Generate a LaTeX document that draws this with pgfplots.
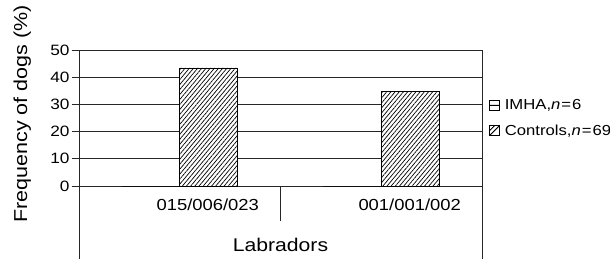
\documentclass[border=0pt]{standalone}
\usepackage{fontspec}
\setmainfont{Liberation Sans}[FakeStretch=1.15]
\usepackage{pgfplots}
\pgfplotsset{compat=1.18}
\usetikzlibrary{patterns.meta}
\begin{document}
\begin{tikzpicture}[x=1pt,y=1pt]
\useasboundingbox (0,0) rectangle (610,259);
\begin{axis}[
  at={(79pt,0pt)}, anchor=south west,
  scale only axis, width=403pt, height=209pt,
  xmin=-0.5, xmax=1.5, ymin=-26.84, ymax=50,
  clip=false,
  axis line style={draw=none},
  ytick={0,10,20,30,40,50},
  ymajorgrids,
  grid style={black!85, line width=0.8pt},
  major tick length=7pt,
  ytick pos=left, ytick align=outside,
  ytick style={black!85, line width=0.8pt},
  xtick={0.139,1.141},
  xticklabels={015/006/023,001/001/002},
  xtick style={draw=none},
  xticklabel style={anchor=base, yshift=55pt, font=\fontsize{16}{19}\selectfont},
  yticklabel style={xshift=1pt},
  /pgf/number format/assume math mode=true,
  font=\fontsize{15}{18}\selectfont,
  ylabel={Frequency of dogs (\%)},
  ylabel style={at={(-0.141,0.694)}, anchor=center, font=\fontsize{18.7}{22}\selectfont},
  xlabel={Labradors},
  xlabel style={at={(0.5,0.067)}, anchor=center, font=\fontsize{18.4}{22}\selectfont},
  ybar, bar width=58pt,
  legend style={at={(1.017,0.675)}, anchor=west, draw=none, fill=none,
    inner sep=0pt, row sep=12pt, font=\fontsize{14.5}{17}\selectfont,
    nodes={inner sep=1pt}},
  legend cell align=left,
]
\addplot[draw=black, fill=white, line width=0.8pt, bar shift=-29pt,
  legend image code/.code={
    \node[inner sep=0pt, minimum size=0pt, draw=none] at (14pt,0pt) {};
    \draw[black, line width=0.8pt, fill=white] (0pt,-5pt) rectangle (10pt,5pt);
    \draw[black, line width=0.8pt] (0pt,0pt) -- (10pt,0pt);}]
  coordinates {(0,0) (1,0)};
\addlegendentry{IMHA,\textit{n}\kern1pt=\kern1pt6}
\addplot[draw=black, fill=white, line width=0.8pt, bar shift=29pt,
  postaction={pattern={Lines[angle=50,distance=3.2pt,line width=0.7pt]}},
  legend image code/.code={
    \node[inner sep=0pt, minimum size=0pt, draw=none] at (14pt,0pt) {};
    \draw[black, line width=0.8pt, fill=white, postaction={}] (0pt,-5pt) rectangle (10pt,5pt);
    \draw[black, line width=0.7pt] (0pt,-5pt) -- (10pt,5pt);
    \draw[black, line width=0.6pt] (0pt,0pt) -- (5pt,5pt);}]
  coordinates {(0,43.4) (1,34.9)};
\addlegendentry{Controls,\textit{n}\kern1pt=\kern1pt69}
\draw[black!85, line width=0.9pt] (axis cs:-0.5,-26.84) -- (axis cs:-0.5,50);
\draw[black!85, line width=0.9pt] (axis cs:1.5,-26.84) -- (axis cs:1.5,50);
\draw[black!85, line width=0.9pt] (axis cs:0.5,0) -- (axis cs:0.5,-12.9);
\end{axis}
\end{tikzpicture}
\end{document}
